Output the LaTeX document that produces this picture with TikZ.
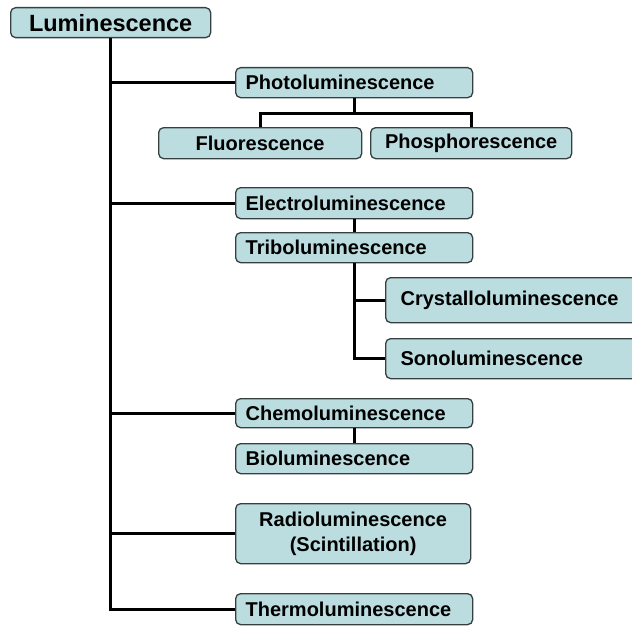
\documentclass[tikz,border=0pt]{standalone}
\usepackage{fontspec}
\setmainfont{Liberation Sans}
\usepackage{tikz}
\usetikzlibrary{shapes,arrows,positioning}

\definecolor{lumfill}{RGB}{187,221,224}
\definecolor{lumedge}{RGB}{55,64,64}

\begin{document}
\begin{tikzpicture}[x=1pt,y=-1pt]
		\tikzstyle{unit}=[draw=lumedge,fill=lumfill,line width=1.3pt,rounded corners=5pt,anchor=north west,inner ysep=0pt,font=\fontsize{20}{24.5}\selectfont\bfseries]
		\tikzstyle{wide}=[unit,inner xsep=10pt,text width=217pt,align=left,minimum height=30pt]
		%\tikzstyle{wide}=[unit,minimum width=237pt,minimum height=30pt]
		\tikzstyle{link}=[line width=3.2pt,black]

		\useasboundingbox (0,0) rectangle (632,626);

		\node[unit,minimum width=200pt,minimum height=30pt,font=\fontsize{23.5}{27}\selectfont\bfseries](lum) at (10,7){Luminescence};

		\node[wide](photo) at (235,67){Photoluminescence};
		\node[unit,minimum width=203pt,minimum height=31pt](fluo) at (158,127){Fluorescence};
		\node[unit,minimum width=201pt,minimum height=31pt](phos) at (370,127){Phosphorescence};

		\node[wide,minimum height=31pt](electro) at (235,187){Electroluminescence};
		\node[wide](tribo) at (235,232){Triboluminescence};
		\node[unit,inner xsep=15pt,text width=230pt,align=left,minimum height=45pt](crystal) at (385,277){Crystalloluminescence};
		\node[unit,inner xsep=15pt,text width=230pt,align=left,minimum height=40pt](sono) at (385,338){Sonoluminescence};

		\node[wide,minimum height=29pt](chemo) at (235,398){Chemoluminescence};
		\node[wide](bio) at (235,443){Bioluminescence};

		\node[unit,minimum width=235pt,minimum height=60pt,align=center](radio) at (235,503){Radioluminescence\\(Scintillation)};

		\node[wide,minimum height=31pt](thermo) at (235,593){Thermoluminescence};

		\draw[link] (lum.south) |- (photo.west);
		\draw[link] (lum.south) |- (electro.west);
		\draw[link] (lum.south) |- (chemo.west);
		\draw[link] (lum.south) |- (radio.west);
		\draw[link] (lum.south) |- (thermo.west);

		\draw[link] (photo.south) -- ++(0,15) coordinate (pfork);
		\draw[link] (fluo.north) |- (pfork) -| (phos.north);

		\draw[link] (electro) -- (tribo);
		\draw[link] (tribo.south) |- (crystal.west);
		\draw[link] (tribo.south) |- (sono.west);

		\draw[link] (chemo) -- (bio);
	\end{tikzpicture}
\end{document}
